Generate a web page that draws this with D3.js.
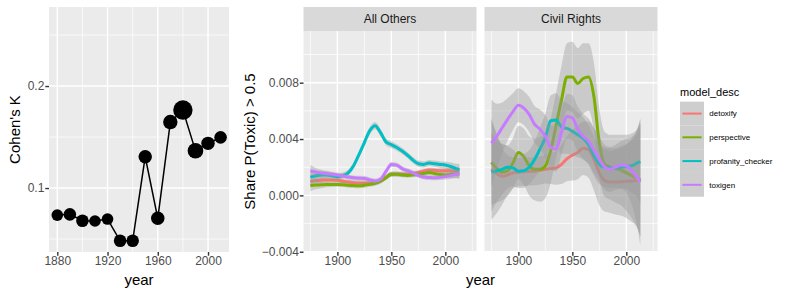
<!DOCTYPE html>
<html>
<head>
<meta charset="utf-8">
<script src="https://cdn.jsdelivr.net/npm/d3@7"></script>
<style>
  body { margin: 0; background: #fff; }
  text { font-family: "Liberation Sans", Arial, sans-serif; }
</style>
</head>
<body>
<svg id="chart" width="789" height="296"></svg>
<script>
// ---- left chart: Cohen's K by decade ----
const kappaYears = [1880, 1890, 1900, 1910, 1920, 1930, 1940, 1950, 1960, 1970, 1980, 1990, 2000, 2010];
const kappa = [0.0735, 0.0742, 0.068, 0.0677, 0.0696, 0.0483, 0.0483, 0.1307, 0.0703, 0.1647, 0.1765, 0.1366, 0.1438, 0.1497];
const pointWeight = [36, 42, 42, 36, 36, 42, 42, 48, 48, 55, 100, 65, 48, 42];

// ---- right chart: smoothed share P(Toxic) > 0.5, values in units of 0.001 ----
const smoothYears = [1875, 1880, 1885, 1890, 1895, 1900, 1905, 1910, 1915, 1920, 1925, 1930, 1935, 1940,
  1945, 1950, 1955, 1960, 1965, 1970, 1975, 1980, 1985, 1990, 1995, 2000, 2005, 2010, 2013];
const models = ["detoxify", "perspective", "profanity_checker", "toxigen"];
const modelColors = ["#F8766D", "#7CAE00", "#00BFC4", "#C77CFF"];
const facets = ["All Others", "Civil Rights"];

// All Others
const aoDetoxify = [1.0, 1.05, 1.08, 1.1, 1.1, 1.08, 1.0, 0.95, 0.9, 0.88, 0.88, 0.88, 0.92, 1.05,
  1.3, 1.5, 1.52, 1.5, 1.5, 1.55, 1.62, 1.72, 1.8, 1.78, 1.75, 1.75, 1.75, 1.72, 1.7];
const aoPerspective = [0.7, 0.73, 0.75, 0.77, 0.78, 0.78, 0.76, 0.72, 0.7, 0.68, 0.72, 0.78, 0.85, 1.0,
  1.25, 1.5, 1.5, 1.45, 1.42, 1.45, 1.5, 1.55, 1.62, 1.55, 1.48, 1.45, 1.48, 1.52, 1.55];
const aoProfanity = [1.3, 1.4, 1.45, 1.45, 1.4, 1.32, 1.4, 1.6, 2.1, 2.9, 3.75, 4.6, 4.95, 4.45,
  3.8, 3.6, 3.4, 3.15, 2.85, 2.5, 2.25, 2.2, 2.3, 2.25, 2.2, 2.15, 2.05, 1.9, 1.8];
const aoToxigen = [1.75, 1.65, 1.58, 1.54, 1.5, 1.45, 1.38, 1.3, 1.25, 1.22, 1.2, 1.1, 1.02, 1.15,
  1.7, 2.2, 2.15, 1.9, 1.75, 1.6, 1.42, 1.3, 1.27, 1.25, 1.28, 1.33, 1.4, 1.5, 1.55];
const aoBandNarrow = [0.4, 0.3, 0.24, 0.2, 0.18, 0.17, 0.17, 0.17, 0.17, 0.17, 0.17, 0.17, 0.17, 0.17,
  0.17, 0.17, 0.17, 0.17, 0.17, 0.17, 0.17, 0.17, 0.17, 0.17, 0.18, 0.2, 0.23, 0.28, 0.35];
const aoBandWide = [0.5, 0.38, 0.3, 0.26, 0.24, 0.22, 0.22, 0.22, 0.23, 0.24, 0.25, 0.26, 0.26, 0.26,
  0.25, 0.24, 0.23, 0.22, 0.22, 0.22, 0.22, 0.22, 0.22, 0.22, 0.23, 0.25, 0.28, 0.35, 0.45];

// Civil Rights
const crDetoxify = [1.87, 1.55, 1.35, 1.45, 1.6, 1.65, 1.68, 1.7, 1.72, 1.78, 1.85, 1.9, 1.95, 2.2,
  2.6, 2.85, 3.05, 3.35, 3.25, 2.55, 1.6, 1.05, 0.95, 0.95, 0.97, 1.0, 1.02, 1.05, 1.07];
const crPerspective = [2.35, 1.9, 1.65, 1.75, 2.3, 3.05, 2.75, 2.1, 1.85, 1.85, 2.1, 3.2, 5.0, 6.8,
  8.4, 8.4, 7.95, 8.3, 8.4, 7.0, 3.7, 2.2, 2.0, 1.9, 1.8, 1.6, 1.4, 1.2, 1.1];
const crProfanity = [1.65, 1.75, 1.85, 2.0, 1.95, 1.72, 1.75, 2.0, 2.55, 3.3, 4.1, 5.3, 5.35, 4.85,
  4.75, 4.55, 4.3, 4.05, 3.6, 2.8, 2.2, 2.0, 1.95, 1.95, 2.0, 2.05, 2.1, 2.3, 2.4];
const crToxigen = [3.7, 4.2, 4.8, 5.4, 5.95, 6.4, 6.2, 5.75, 5.05, 4.7, 4.2, 3.4, 3.3, 4.5,
  5.6, 5.5, 4.7, 4.2, 3.85, 3.2, 2.6, 2.0, 1.85, 2.0, 2.15, 2.1, 1.75, 1.25, 0.95];
const crDetoxifyBand = [3.6, 2.8, 2.0, 1.4, 1.1, 1.0, 1.0, 1.0, 1.0, 1.0, 1.0, 1.1, 1.2, 1.4,
  1.6, 1.8, 1.9, 1.9, 2.0, 2.2, 2.3, 2.2, 2.2, 2.3, 2.4, 2.6, 2.9, 3.3, 4.0];
const crPerspectiveBand = [3.0, 2.4, 2.0, 1.8, 1.8, 1.9, 2.0, 2.1, 2.2, 2.3, 2.3, 2.3, 2.3, 2.4,
  2.4, 2.5, 2.5, 2.5, 2.4, 2.4, 2.4, 2.3, 2.3, 2.4, 2.5, 2.7, 3.0, 3.5, 4.0];
const crProfanityBand = [2.8, 2.2, 1.8, 1.5, 1.3, 1.2, 1.2, 1.2, 1.3, 1.5, 1.7, 1.8, 1.9, 1.9,
  1.8, 1.7, 1.6, 1.5, 1.4, 1.4, 1.4, 1.4, 1.4, 1.4, 1.5, 1.6, 1.9, 2.4, 3.0];
const crToxigenBand = [3.1, 2.3, 1.8, 1.5, 1.3, 1.2, 1.2, 1.25, 1.3, 1.4, 1.5, 1.6, 1.6, 1.6,
  1.6, 1.6, 1.6, 1.6, 1.6, 1.6, 1.6, 1.6, 1.6, 1.6, 1.7, 1.9, 2.4, 3.4, 4.5];

const shareTicks = [-4, 0, 4, 8];

// fit + band per facet, in model order
const fits = {
  "All Others": [
    [aoDetoxify, aoBandNarrow], [aoPerspective, aoBandNarrow], [aoProfanity, aoBandWide], [aoToxigen, aoBandNarrow]
  ],
  "Civil Rights": [
    [crDetoxify, crDetoxifyBand], [crPerspective, crPerspectiveBand], [crProfanity, crProfanityBand], [crToxigen, crToxigenBand]
  ]
};

const svg = d3.select("#chart");
const PANEL_BG = "#EBEBEB";

function drawGrid(g, x, y, xMajor, xMinor, yMajor, yMinor) {
  const [x0, x1] = x.range();
  const [y1, y0] = y.range();
  g.append("rect").attr("x", x0).attr("y", y0).attr("width", x1 - x0).attr("height", y1 - y0).attr("fill", PANEL_BG);
  const lines = (vals, w, vertical) => {
    g.selectAll(null).data(vals).enter().append("line")
      .attr("x1", d => vertical ? x(d) : x0).attr("x2", d => vertical ? x(d) : x1)
      .attr("y1", d => vertical ? y0 : y(d)).attr("y2", d => vertical ? y1 : y(d))
      .attr("stroke", "#fff").attr("stroke-width", w);
  };
  lines(yMinor, 0.7, false);
  lines(xMinor, 0.7, true);
  lines(yMajor, 1.4, false);
  lines(xMajor, 1.4, true);
}

function styleAxis(sel) {
  sel.select(".domain").remove();
  sel.selectAll(".tick line").attr("stroke", "#333333").attr("stroke-width", 1.4);
  sel.selectAll(".tick text").attr("fill", "#4D4D4D").style("font-size", "12px")
    .style("font-family", '"Liberation Sans", Arial, sans-serif');
}

function axisTitle(txt, x, y, rotate) {
  svg.append("text").text(txt)
    .attr("transform", `translate(${x},${y})` + (rotate ? " rotate(-90)" : ""))
    .attr("text-anchor", "middle").attr("fill", "#000").style("font-size", "15px");
}

// ---------------- left chart ----------------
const kx = d3.scaleLinear().domain([1873.4, 2016.7]).range([49, 229]);
const ky = d3.scaleLinear().domain([0.0373, 0.2775]).range([252, 7]);
const kr = d3.scaleSqrt().domain([0, 100]).range([0, 9.7]);

const left = svg.append("g");
drawGrid(left, kx, ky, [1880, 1920, 1960, 2000], [1900, 1940, 1980], [0.1, 0.2], [0.05, 0.15, 0.25]);

const kappaData = kappaYears.map((yr, i) => ({ year: yr, k: kappa[i], w: pointWeight[i] }));
left.append("path").datum(kappaData)
  .attr("d", d3.line().x(d => kx(d.year)).y(d => ky(d.k)))
  .attr("fill", "none").attr("stroke", "#000").attr("stroke-width", 1.5);
left.selectAll("circle").data(kappaData).enter().append("circle")
  .attr("cx", d => kx(d.year)).attr("cy", d => ky(d.k)).attr("r", d => kr(d.w))
  .attr("fill", "#000");

svg.append("g").attr("transform", "translate(0,252)")
  .call(d3.axisBottom(kx).tickValues([1880, 1920, 1960, 2000]).tickFormat(d3.format("d")).tickSize(3.7).tickPadding(1))
  .call(styleAxis);
svg.append("g").attr("transform", "translate(49,0)")
  .call(d3.axisLeft(ky).tickValues([0.1, 0.2]).tickFormat(d3.format(".1f")).tickSize(3.7).tickPadding(1))
  .call(styleAxis);
axisTitle("Cohen's K", 19.5, 129.5, true);
axisTitle("year", 139, 284.5, false);

// ---------------- right chart (faceted) ----------------
const sy = d3.scaleLinear().domain([-4.02, 11.67]).range([252, 31]);
const panelX = [[303.5, 476.5], [484.5, 657.5]];
const shareFmt = v => (v / 1000).toFixed(3).replace("-", "\u2212");

facets.forEach((facet, fi) => {
  const sx = d3.scaleLinear().domain([1868.6, 2028.9]).range(panelX[fi]);
  const g = svg.append("g");
  drawGrid(g, sx, sy, [1900, 1950, 2000], [1875, 1925, 1975, 2025], shareTicks, [-2, 2, 6, 10]);

  // strip
  g.append("rect").attr("x", panelX[fi][0]).attr("y", 7).attr("width", panelX[fi][1] - panelX[fi][0]).attr("height", 24)
    .attr("fill", "#D9D9D9");
  g.append("text").text(facet).attr("x", (panelX[fi][0] + panelX[fi][1]) / 2).attr("y", 23.3)
    .attr("text-anchor", "middle").attr("fill", "#1A1A1A").style("font-size", "12px");

  const area = d3.area().curve(d3.curveMonotoneX)
    .x(d => sx(d.year)).y0(d => sy(d.fit - d.band)).y1(d => sy(d.fit + d.band));
  const line = d3.line().curve(d3.curveMonotoneX).x(d => sx(d.year)).y(d => sy(d.fit));

  fits[facet].forEach(([fit, band], mi) => {
    const pts = smoothYears.map((yr, i) => ({ year: yr, fit: fit[i], band: band[i] }));
    g.append("path").datum(pts).attr("d", area).attr("fill", "#999999").attr("fill-opacity", 0.4);
    g.append("path").datum(pts).attr("d", line).attr("fill", "none")
      .attr("stroke", modelColors[mi]).attr("stroke-width", 3);
  });

  svg.append("g").attr("transform", "translate(0,252)")
    .call(d3.axisBottom(sx).tickValues([1900, 1950, 2000]).tickFormat(d3.format("d")).tickSize(3.7).tickPadding(1))
    .call(styleAxis);
});

svg.append("g").attr("transform", `translate(${panelX[0][0]},0)`)
  .call(d3.axisLeft(sy).tickValues(shareTicks).tickFormat(shareFmt).tickSize(3.7).tickPadding(1))
  .call(styleAxis);
axisTitle("Share P(Toxic) > 0.5", 255, 141.5, true);
axisTitle("year", (panelX[0][0] + panelX[1][1]) / 2, 284.5, false);

// ---------------- legend ----------------
const legend = svg.append("g");
legend.append("text").text("model_desc").attr("x", 680).attr("y", 96)
  .attr("fill", "#000").style("font-size", "11px");
const keyH = 23.75;
models.forEach((m, i) => {
  const top = 101.7 + i * keyH;
  legend.append("rect").attr("x", 680).attr("y", top).attr("width", 24).attr("height", keyH).attr("fill", "#F2F2F2");
  legend.append("rect").attr("x", 680).attr("y", top).attr("width", 24).attr("height", keyH)
    .attr("fill", "#999999").attr("fill-opacity", 0.4);
  legend.append("line").attr("x1", 682.4).attr("x2", 701.6).attr("y1", top + keyH / 2).attr("y2", top + keyH / 2)
    .attr("stroke", modelColors[i]).attr("stroke-width", 2);
  legend.append("text").text(m).attr("x", 709.3).attr("y", top + keyH / 2).attr("dy", "0.35em")
    .attr("fill", "#000").style("font-size", "8px");
});
</script>
</body>
</html>
